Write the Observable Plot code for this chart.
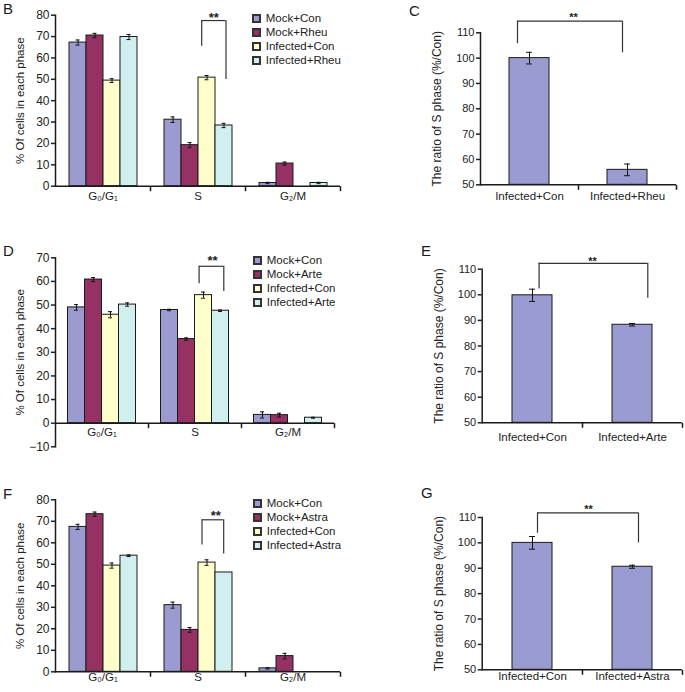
<!DOCTYPE html>
<html>
<head>
<meta charset="utf-8">
<script src="https://cdn.jsdelivr.net/npm/d3@7"></script>
<script src="https://cdn.jsdelivr.net/npm/@observablehq/plot@0.6"></script>
<style>
  body { margin: 0; background: #fff; }
  #root { position: relative; width: 685px; height: 692px; overflow: hidden; font-family: "Liberation Sans", Arial, Helvetica, sans-serif; color: #222; }
  .abs { position: absolute; }
  .letter { position: absolute; font-size: 15px; line-height: 15px; color: #1a1a1a; }
  .lg svg rect, .lg svg path { stroke: #333; stroke-width: 2px; }
  .lg div[class$="-swatch"] { height: 14px; padding: 0 !important; margin: 0 !important; }
  .lg div[class$="-swatches"] { margin: 0 !important; min-height: 0 !important; }
</style>
</head>
<body>
<div id="root"></div>
<script>
// ---------- data ----------
const phases = ["G₀/G₁", "S", "G₂/M"];
const colorsLeft = ["#9b9bd0", "#963163", "#ffffcc", "#d2eff0"];
const colorRight = "#9a9bd0";
const yLabelLeft = "% Of cells in each phase";
const yLabelRight = "The ratio of S phase (%/Con)";

// Panel B
const seriesB = ["Mock+Con", "Mock+Rheu", "Infected+Con", "Infected+Rheu"];
const meanB = [[67.2, 70.5, 49.4, 69.8], [31.1, 19.2, 50.8, 28.4], [1.5, 10.6, 0, 1.5]];
const errB  = [[1.2, 1.0, 0.9, 1.2], [1.3, 1.2, 1.0, 1.0], [0.3, 0.7, 0, 0.3]];
const ticksB = [0, 10, 20, 30, 40, 50, 60, 70, 80];
const bracketB = {phase: "S", from: "Infected+Con", to: "Infected+Rheu", top: 77.5, fromEnd: 65.5, toEnd: 49.9, label: "**"};

// Panel D
const seriesD = ["Mock+Con", "Mock+Arte", "Infected+Con", "Infected+Arte"];
const meanD = [[49.0, 60.8, 45.9, 50.2], [47.9, 35.6, 54.2, 47.6], [3.5, 3.4, 0, 2.3]];
const errD  = [[1.2, 0.8, 1.3, 0.7], [0.3, 0.5, 1.3, 0.3], [1.3, 0.8, 0, 0.2]];
const ticksD = [-10, 0, 10, 20, 30, 40, 50, 60, 70];
const bracketD = {phase: "S", from: "Infected+Con", to: "Infected+Arte", top: 66.4, fromEnd: 59.0, toEnd: 55.7, label: "**"};

// Panel F
const seriesF = ["Mock+Con", "Mock+Astra", "Infected+Con", "Infected+Astra"];
const meanF = [[67.4, 73.3, 49.4, 54.0], [31.0, 19.5, 50.8, 46.2], [1.6, 7.3, 0, 0]];
const errF  = [[1.2, 1.0, 1.2, 0.4], [1.4, 1.1, 1.3, 0], [0.3, 1.3, 0, 0]];
const ticksF = [0, 10, 20, 30, 40, 50, 60, 70, 80];
const bracketF = {phase: "S", from: "Infected+Con", to: "Infected+Astra", top: 70.7, fromEnd: 59.0, toEnd: 54.8, label: "**"};

// Right panels
const ticksRight = [50, 60, 70, 80, 90, 100, 110];
const groupsC = ["Infected+Con", "Infected+Rheu"];
const meanC = [100.0, 55.9];
const errC  = [2.3, 2.3];
const bracketC = {from: "Infected+Con", to: "Infected+Rheu", top: 114.6, fromEnd: 105.7, toEnd: 102.1, label: "**"};

const groupsE = ["Infected+Con", "Infected+Arte"];
const meanE = [99.8, 88.3];
const errE  = [2.4, 0.5];
const bracketE = {from: "Infected+Con", to: "Infected+Arte", top: 112.3, fromEnd: 102.3, toEnd: 98.7, label: "**"};

const groupsG = ["Infected+Con", "Infected+Astra"];
const meanG = [100.0, 90.6];
const errG  = [2.5, 0.6];
const bracketG = {from: "Infected+Con", to: "Infected+Astra", top: 111.8, fromEnd: 103.8, toEnd: 100.0, label: "**"};

// ---------- drawing ----------
const FONT = '"Liberation Sans", Arial, Helvetica, sans-serif';
const INK = "#1a1a1a";
const tickDown = {draw(ctx) { ctx.moveTo(0, 0); ctx.lineTo(0, 5); }};
const root = document.getElementById("root");

function place(el, left, top) {
  const d = document.createElement("div");
  d.className = "abs";
  d.style.left = left + "px";
  d.style.top = top + "px";
  d.appendChild(el);
  root.appendChild(d);
  return d;
}
function letter(t, left, top) {
  const d = document.createElement("div");
  d.className = "letter";
  d.style.left = left + "px";
  d.style.top = top + "px";
  d.textContent = t;
  root.appendChild(d);
}

function leftPanel(o) {
  const rows = [];
  phases.forEach((p, i) => o.series.forEach((s, j) =>
    rows.push({phase: p, series: s, value: o.mean[i][j], err: o.err[i][j]})));
  const eb = rows.filter(d => d.err > 0);
  const br = o.bracket;
  const step = o.plotW / 3 / (4 + 2 * 0.69);
  const chart = Plot.plot({
    width: o.width, height: o.height,
    marginLeft: o.ml, marginRight: o.width - o.ml - o.plotW, marginTop: o.mt, marginBottom: o.mb,
    style: {fontFamily: FONT, fontSize: "12px", color: "#222", background: "transparent", overflow: "visible"},
    fx: {domain: phases, padding: 0, axis: null},
    x: {domain: o.series, paddingInner: 0, paddingOuter: 0.69, axis: null},
    y: {domain: [o.ticks[0], o.ticks[o.ticks.length - 1]]},
    color: {domain: o.series, range: colorsLeft},
    marks: [
      Plot.barY(rows, {fx: "phase", x: "series", y: "value", fill: "series", stroke: INK, strokeWidth: 1}),
      Plot.ruleX(eb, {fx: "phase", x: "series", y1: d => d.value - d.err, y2: d => d.value + d.err, stroke: "#111"}),
      Plot.tickY(eb, {fx: "phase", x: "series", y: d => d.value - d.err, insetLeft: 6.5, insetRight: 6.5, stroke: "#111"}),
      Plot.tickY(eb, {fx: "phase", x: "series", y: d => d.value + d.err, insetLeft: 6.5, insetRight: 6.5, stroke: "#111"}),
      Plot.ruleY([0], {stroke: INK, strokeWidth: 1.5}),
      Plot.frame({anchor: "left", facetAnchor: "left", stroke: INK, strokeWidth: 1.5}),
      Plot.axisY({ticks: o.ticks, tickSize: 4, tickPadding: 2, label: null, strokeWidth: 1.5, fontSize: 12}),
      Plot.axisY({ticks: [], tickSize: 0, label: yLabelLeft, labelAnchor: "center",
                  labelOffset: o.labelOffset, labelArrow: "none", fontSize: 11.5}),
      Plot.dot([0], {y: d => d, frameAnchor: "right", symbol: tickDown, stroke: INK, strokeWidth: 1.5, fill: "none"}),
      Plot.text(phases, {fx: d => d, y: () => 0, text: d => d, dy: o.labelDy, fontSize: 11.5}),
      // significance bracket
      Plot.ruleX([br], {fx: "phase", x: "from", y1: "top", y2: "fromEnd", dx: o.dxFrom, stroke: "#333", strokeWidth: 1.2}),
      Plot.ruleX([br], {fx: "phase", x: "to", y1: "top", y2: "toEnd", dx: o.dxTo, stroke: "#333", strokeWidth: 1.2}),
      Plot.ruleY([br], {fx: "phase", x1: "from", x2: "to", y: "top", insetLeft: step / 2 + o.dxFrom, insetRight: step / 2 - o.dxTo, stroke: "#333", strokeWidth: 1.2}),
      Plot.text([br], {fx: "phase", x: "from", y: "top", text: "label", dx: o.dxStar, dy: o.dyStar, fontSize: 13, fontWeight: "bold"})
    ]
  });
  place(chart, o.left, o.top);
  const lg = Plot.legend({
    color: {type: "ordinal", domain: o.series, range: colorsLeft},
    legend: "swatches", columns: 1, swatchSize: 7,
    style: {fontFamily: FONT, fontSize: "11.5px", color: "#222"}
  });
  const w = place(lg, o.legLeft, o.legTop);
  w.classList.add("lg");
}

function rightPanel(o) {
  const rows = o.groups.map((g, i) => ({group: g, value: o.mean[i], err: o.err[i]}));
  const base = ticksRight[0];
  const br = o.bracket;
  const n = o.groups.length;
  const step = o.plotW / (n - o.pi + 2 * o.po);
  const bw = step * (1 - o.pi);
  const chart = Plot.plot({
    width: o.width, height: o.height,
    marginLeft: o.ml, marginRight: o.width - o.ml - o.plotW, marginTop: o.mt, marginBottom: o.mb,
    style: {fontFamily: FONT, fontSize: "11px", color: "#222", background: "transparent", overflow: "visible"},
    x: {domain: o.groups, paddingInner: o.pi, paddingOuter: o.po, axis: null},
    y: {domain: [base, ticksRight[ticksRight.length - 1]]},
    marks: [
      Plot.barY(rows, {x: "group", y1: base, y2: "value", fill: colorRight, stroke: INK, strokeWidth: 1}),
      Plot.ruleX(rows, {x: "group", y1: d => d.value - d.err, y2: d => d.value + d.err, stroke: "#111"}),
      Plot.tickY(rows, {x: "group", y: d => d.value - d.err, insetLeft: bw / 2 - 3, insetRight: bw / 2 - 3, stroke: "#111"}),
      Plot.tickY(rows, {x: "group", y: d => d.value + d.err, insetLeft: bw / 2 - 3, insetRight: bw / 2 - 3, stroke: "#111"}),
      Plot.ruleY([base], {stroke: INK, strokeWidth: 1.5}),
      Plot.frame({anchor: "left", stroke: INK, strokeWidth: 1.5}),
      Plot.axisY({ticks: ticksRight, tickSize: 4, tickPadding: 2, label: null, strokeWidth: 1.5, fontSize: 11}),
      Plot.axisY({ticks: [], tickSize: 0, label: yLabelRight, labelAnchor: "center",
                  labelOffset: o.labelOffset, labelArrow: "none", fontSize: 12}),
      Plot.dot(o.groups, {x: d => d, y: () => base, dx: step / 2, symbol: tickDown, stroke: INK, strokeWidth: 1.5, fill: "none"}),
      Plot.text(o.groups, {x: d => d, y: () => base, text: d => d, dy: o.labelDy, fontSize: 11.5}),
      Plot.ruleX([br], {x: "from", y1: "top", y2: "fromEnd", dx: o.dxFrom, stroke: "#333", strokeWidth: 1.2}),
      Plot.ruleX([br], {x: "to", y1: "top", y2: "toEnd", dx: o.dxTo, stroke: "#333", strokeWidth: 1.2}),
      Plot.ruleY([br], {x1: "from", x2: "to", y: "top", insetLeft: bw / 2 + o.dxFrom, insetRight: bw / 2 - o.dxTo, stroke: "#333", strokeWidth: 1.2}),
      Plot.text([br], {x: "from", y: "top", text: "label", dx: o.dxStar, dy: o.dyStar, fontSize: 11, fontWeight: "bold"})
    ]
  });
  place(chart, o.left, o.top);
}

leftPanel({series: seriesB, mean: meanB, err: errB, ticks: ticksB, bracket: bracketB,
  left: 0, top: 0, width: 345, height: 208, ml: 55, plotW: 285, mt: 14.7, mb: 22.3,
  labelOffset: 40, labelDy: 10.5, dxFrom: -5.3, dxTo: 2, dxStar: 6.7, dyStar: -2.8,
  legLeft: 253, legTop: 11});
leftPanel({series: seriesD, mean: meanD, err: errD, ticks: ticksD, bracket: bracketD,
  left: 0, top: 240, width: 345, height: 218, ml: 54.5, plotW: 280.5, mt: 17.3, mb: 11.7,
  labelOffset: 40, labelDy: 9.5, dxFrom: -4.4, dxTo: 3.3, dxStar: 9, dyStar: -5.2,
  legLeft: 254, legTop: 253});
leftPanel({series: seriesF, mean: meanF, err: errF, ticks: ticksF, bracket: bracketF,
  left: 0, top: 484, width: 345, height: 208, ml: 55, plotW: 285, mt: 15.3, mb: 20.7,
  labelOffset: 40, labelDy: 6, dxFrom: -5, dxTo: -0.3, dxStar: 8.7, dyStar: -3.8,
  legLeft: 254, legTop: 496});

rightPanel({groups: groupsC, mean: meanC, err: errC, bracket: bracketC,
  left: 400, top: 0, width: 285, height: 206, ml: 80, plotW: 196, mt: 32.3, mb: 21.7, pi: 0.59, po: 0.295,
  labelOffset: 48, labelDy: 11.7, dxFrom: -12, dxTo: -5, dxStar: 44, dyStar: -3.9});
rightPanel({groups: groupsE, mean: meanE, err: errE, bracket: bracketE,
  left: 400, top: 240, width: 285, height: 205, ml: 81.7, plotW: 200, mt: 28.7, mb: 22.7, pi: 0.6, po: 0.3,
  labelOffset: 48, labelDy: 14.4, dxFrom: 6.6, dxTo: 15.3, dxStar: 60, dyStar: -2});
rightPanel({groups: groupsG, mean: meanG, err: errG, bracket: bracketG,
  left: 400, top: 484, width: 285, height: 200, ml: 81.7, plotW: 200, mt: 33, mb: 14.7, pi: 0.6, po: 0.3,
  labelOffset: 48, labelDy: 6.5, dxFrom: 5, dxTo: 6, dxStar: 56, dyStar: -3.9});

letter("B", 3, 1);
letter("C", 409, 3);
letter("D", 3, 243);
letter("E", 421, 243);
letter("F", 3, 486);
letter("G", 421, 485);
</script>
</body>
</html>
